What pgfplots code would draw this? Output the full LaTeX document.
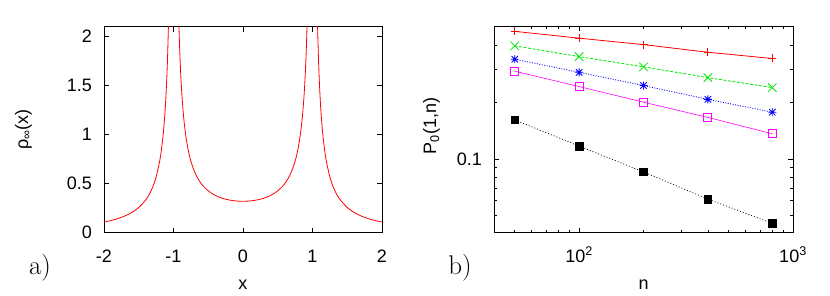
\documentclass[border=0pt]{standalone}
\usepackage{fontspec}
\usepackage{pgfplots}
\pgfplotsset{compat=1.18}
\newfontfamily\helv{Liberation Sans}
\newcommand\tf{\helv\fontsize{18}{21}\selectfont}
\definecolor{gpred}{RGB}{255,0,0}
\definecolor{gpgreen}{RGB}{0,230,0}
\definecolor{gpblue}{RGB}{0,0,255}
\definecolor{gpmag}{RGB}{255,0,255}
\pgfdeclareplotmark{gpstar}{%
  \pgfpathmoveto{\pgfqpoint{-\pgfplotmarksize}{0pt}}\pgfpathlineto{\pgfqpoint{\pgfplotmarksize}{0pt}}%
  \pgfpathmoveto{\pgfqpoint{0pt}{-\pgfplotmarksize}}\pgfpathlineto{\pgfqpoint{0pt}{\pgfplotmarksize}}%
  \pgfpathmoveto{\pgfqpoint{-.8\pgfplotmarksize}{-.8\pgfplotmarksize}}\pgfpathlineto{\pgfqpoint{.8\pgfplotmarksize}{.8\pgfplotmarksize}}%
  \pgfpathmoveto{\pgfqpoint{-.8\pgfplotmarksize}{.8\pgfplotmarksize}}\pgfpathlineto{\pgfqpoint{.8\pgfplotmarksize}{-.8\pgfplotmarksize}}%
  \pgfusepathqstroke}
\begin{document}
\begin{tikzpicture}
\path[use as bounding box] (0pt,0pt) rectangle (830pt,295pt);
\pgfplotsset{
  every axis/.append style={
    scale only axis, axis line style={line width=0.9pt}, anchor=south west,
    tick style={line width=0.7pt,black}, major tick length=5pt, minor tick length=3pt,
    /pgf/number format/assume math mode=true,
    tick label style={font=\tf},
    label style={font=\tf},
    xticklabel style={anchor=base, yshift=-29.5pt},
    yticklabel style={anchor=east, inner sep=0pt, xshift=-12pt},
    xlabel style={at={(axis description cs:0.5,0)}, anchor=base, yshift=-57pt},
  },
}
% ---------- a) ----------
\begin{axis}[at={(104pt,62.5pt)}, width=278pt, height=206pt,
  xmin=-2, xmax=2, ymin=0, ymax=2.1,
  xtick={-2,-1,0,1,2}, ytick={0,0.5,1,1.5,2},
  xlabel={x}, ylabel={ρ\textsubscript{∞}(x)},
  ylabel style={at={(axis description cs:-0.29,0.5)}, anchor=center},
]
\addplot[gpred, line width=0.8pt, smooth] coordinates {
(-2.0,0.1061)(-1.9,0.1220)(-1.8,0.1421)(-1.7,0.1684)(-1.6,0.2040)(-1.5,0.2546)
(-1.4,0.3316)(-1.35,0.3870)(-1.3,0.4613)(-1.25,0.5659)(-1.2,0.7234)(-1.175,0.8363)
(-1.15,0.9870)(-1.135,1.1044)(-1.12,1.2512)(-1.11,1.3714)(-1.1,1.5158)(-1.09,1.6922)
(-1.085,1.7961)(-1.075,2.0454)(-1.07,2.1968)(-1.065,2.3715)};
\addplot[gpred, line width=0.8pt, smooth] coordinates {
(-0.93,2.3561)(-0.92,2.0723)(-0.91,1.8517)(-0.895,1.5998)(-0.875,1.3581)(-0.85,1.1471)
(-0.825,0.9967)(-0.8,0.8842)(-0.775,0.7970)(-0.75,0.7276)(-0.7,0.6241)(-0.65,0.5512)
(-0.6,0.4974)(-0.55,0.4564)(-0.5,0.4244)(-0.4,0.3789)(-0.3,0.3498)(-0.2,0.3316)
(-0.1,0.3215)(0,0.3183)(0.1,0.3215)(0.2,0.3316)(0.3,0.3498)(0.4,0.3789)(0.5,0.4244)
(0.55,0.4564)(0.6,0.4974)(0.65,0.5512)(0.7,0.6241)(0.75,0.7276)(0.775,0.7970)
(0.8,0.8842)(0.825,0.9967)(0.85,1.1471)(0.875,1.3581)(0.895,1.5998)(0.91,1.8517)
(0.92,2.0723)(0.93,2.3561)};
\addplot[gpred, line width=0.8pt, smooth] coordinates {
(1.065,2.3715)(1.07,2.1968)(1.075,2.0454)(1.085,1.7961)(1.09,1.6922)(1.1,1.5158)
(1.11,1.3714)(1.12,1.2512)(1.135,1.1044)(1.15,0.9870)(1.175,0.8363)(1.2,0.7234)
(1.25,0.5659)(1.3,0.4613)(1.35,0.3870)(1.4,0.3316)(1.5,0.2546)(1.6,0.2040)
(1.7,0.1684)(1.8,0.1421)(1.9,0.1220)(2.0,0.1061)};
\end{axis}
% ---------- b) ----------
\begin{axis}[at={(494pt,62.5pt)}, width=299pt, height=206pt,
  xmode=log, ymode=log, xmin=40, xmax=1000, ymin=0.0407, ymax=0.504,
  xtick={100,1000}, xticklabels={10\textsuperscript{2},10\textsuperscript{3}},
  minor xtick={40,50,60,70,80,90,200,300,400,500,600,700,800,900},
  ytick={0.1}, yticklabels={0.1},
  minor ytick={0.05,0.06,0.07,0.08,0.09,0.2,0.3,0.4},
  xlabel={n}, ylabel={P\textsubscript{0}(1,n)},
  ylabel style={at={(axis description cs:-0.209,0.516)}, anchor=center},
]
\addplot[gpred, line width=0.8pt, mark=+, mark size=4pt, mark options={line width=0.8pt}]
 coordinates {(50,0.475)(100,0.437)(200,0.404)(400,0.368)(800,0.341)};
\addplot[gpgreen, line width=0.8pt, dash pattern=on 3pt off 1.5pt, mark=x, mark size=6pt, mark options={solid,line width=0.8pt}]
 coordinates {(50,0.398)(100,0.349)(200,0.308)(400,0.270)(800,0.239)};
\addplot[gpblue, line width=0.8pt, dash pattern=on 1pt off 1.5pt, mark=gpstar, mark size=4pt, mark options={solid,line width=0.8pt}]
 coordinates {(50,0.338)(100,0.288)(200,0.245)(400,0.207)(800,0.177)};
\addplot[gpmag, line width=0.6pt, mark=square, mark size=4pt, mark options={solid,line width=0.8pt}]
 coordinates {(50,0.292)(100,0.242)(200,0.200)(400,0.166)(800,0.136)};
\addplot[black, line width=0.7pt, dash pattern=on 1pt off 2pt, mark=square*, mark size=3.8pt, mark options={solid}]
 coordinates {(50,0.161)(100,0.117)(200,0.0853)(400,0.0612)(800,0.0455)};
\end{axis}
\node[font=\fontsize{27}{30}\selectfont] at (40pt,27pt) {a)};
\node[font=\fontsize{27}{30}\selectfont] at (460pt,27pt) {b)};
\end{tikzpicture}
\end{document}
